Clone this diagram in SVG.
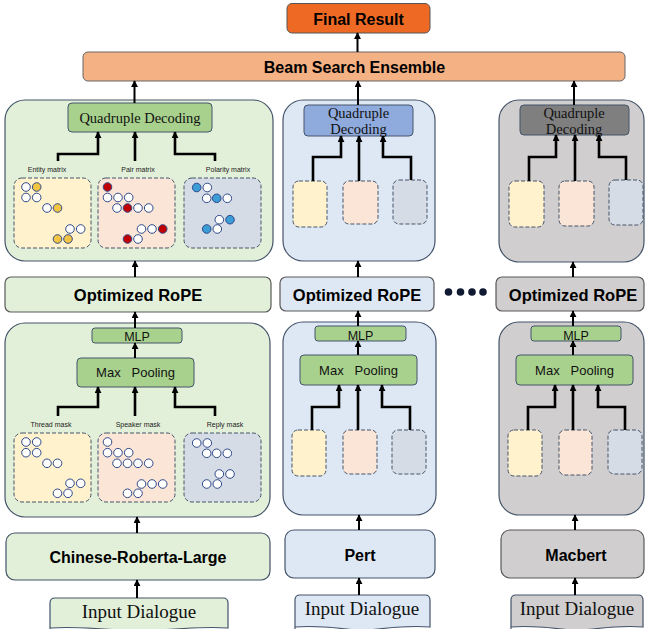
<svg xmlns="http://www.w3.org/2000/svg" width="645" height="629" viewBox="0 0 645 629">
<defs>
<marker id="ah" viewBox="0 0 8 8" refX="7" refY="4" markerWidth="7" markerHeight="7" markerUnits="userSpaceOnUse" orient="auto">
<path d="M0,0 L8,4 L0,8 z" fill="#000"/>
</marker>
<style>
.bold{font-family:"Liberation Sans",Arial,sans-serif;font-weight:bold;fill:#000;text-anchor:middle}
.serif{font-family:"Liberation Serif","Times New Roman",serif;fill:#111;text-anchor:middle}
.sans{font-family:"Liberation Sans",Arial,sans-serif;fill:#111;text-anchor:middle}
.lbl{font-family:"Liberation Sans",Arial,sans-serif;font-size:7px;fill:#222;text-anchor:middle}
.pg{fill:#E2F0D9;stroke:#44546A;stroke-width:1.2}
.pb{fill:#DEE8F4;stroke:#44546A;stroke-width:1.2}
.pgr{fill:#D0CECE;stroke:#44546A;stroke-width:1.2}
.gbox{fill:#A9D18E;stroke:#44546A;stroke-width:1}
.dy{fill:#FFF2CC;stroke:#44546A;stroke-width:1;stroke-dasharray:4 2}
.dp{fill:#FBE5D6;stroke:#44546A;stroke-width:1;stroke-dasharray:4 2}
.dg{fill:#D6DCE5;stroke:#44546A;stroke-width:1;stroke-dasharray:4 2}
.c{fill:#fff;stroke:#2F4A8A;stroke-width:1}
.cy{fill:#F4C542;stroke:#2F4A8A;stroke-width:1}
.cr{fill:#C00000;stroke:#2F4A8A;stroke-width:1}
.cb{fill:#3B9CD6;stroke:#2F4A8A;stroke-width:1}
.a{fill:none;stroke:#000;stroke-width:2;marker-end:url(#ah)}
.t{fill:none;stroke:#000;stroke-width:2.6;marker-end:url(#ah)}
</style>
</defs>

<g id="final-result">
<rect x="287" y="3.5" width="143" height="29.5" rx="5" fill="#EE6A24" stroke="#555" stroke-width="1"/>
<text class="bold" x="358.5" y="24.5" font-size="16">Final Result</text>
</g>

<g id="beam-search-ensemble">
<rect x="83" y="52" width="542" height="29" rx="5" fill="#F4B183" stroke="#666" stroke-width="1"/>
<text class="bold" x="354.5" y="72.5" font-size="16">Beam Search Ensemble</text>
</g>

<!-- LEFT COLUMN -->
<g id="left-decoder-panel">
<rect class="pg" x="5" y="100" width="268" height="161" rx="20"/>
</g>
<g id="left-quadruple-decoding">
<rect class="gbox" x="68" y="103" width="144" height="29" rx="4"/>
<text class="serif" x="140" y="122.5" font-size="14.5">Quadruple Decoding</text>
</g>
<g id="left-entity-matrix">
<text class="lbl" x="47" y="172">Entity matrix</text>
<rect class="dy" x="14" y="178" width="77" height="70" rx="8"/>
<circle class="c" cx="26" cy="187" r="4.3"/><circle class="cy" cx="36.7" cy="187" r="4.3"/>
<circle class="c" cx="26" cy="197.5" r="4.3"/><circle class="c" cx="36.7" cy="197.5" r="4.3"/>
<circle class="c" cx="47" cy="208" r="4.3"/><circle class="cy" cx="57.5" cy="208" r="4.3"/>
<circle class="c" cx="70" cy="229" r="4.3"/><circle class="c" cx="80.7" cy="229" r="4.3"/>
<circle class="cy" cx="57.5" cy="239" r="4.3"/><circle class="cy" cx="68" cy="239" r="4.3"/>
</g>
<g id="left-pair-matrix">
<text class="lbl" x="138" y="172">Pair matrix</text>
<rect class="dp" x="98" y="178" width="77" height="70" rx="8"/>
<circle class="cr" cx="107.5" cy="187" r="4.3"/>
<circle class="c" cx="107.5" cy="197.5" r="4.3"/><circle class="c" cx="118" cy="197.5" r="4.3"/><circle class="c" cx="128.7" cy="197.5" r="4.3"/>
<circle class="c" cx="117" cy="208" r="4.3"/><circle class="cr" cx="127.5" cy="208" r="4.3"/><circle class="c" cx="138" cy="208" r="4.3"/><circle class="c" cx="148.7" cy="208" r="4.3"/>
<circle class="c" cx="141.5" cy="229" r="4.3"/><circle class="c" cx="152" cy="229" r="4.3"/><circle class="cr" cx="162.7" cy="229" r="4.3"/>
<circle class="cr" cx="127.5" cy="239" r="4.3"/><circle class="c" cx="138" cy="239" r="4.3"/>
</g>
<g id="left-polarity-matrix">
<text class="lbl" x="228" y="172">Polarity matrix</text>
<rect class="dg" x="184" y="178" width="77" height="70" rx="8"/>
<circle class="cb" cx="196.7" cy="187.5" r="4.3"/><circle class="c" cx="207.3" cy="187.5" r="4.3"/>
<circle class="c" cx="206.7" cy="198.3" r="4.3"/><circle class="cb" cx="216.7" cy="198.3" r="4.3"/><circle class="c" cx="227.3" cy="198.3" r="4.3"/>
<circle class="c" cx="219.3" cy="219.7" r="4.3"/><circle class="cb" cx="230" cy="219.7" r="4.3"/>
<circle class="cb" cx="206.7" cy="229" r="4.3"/><circle class="c" cx="217.3" cy="229" r="4.3"/>
</g>

<g id="left-optimized-rope">
<rect class="pg" x="5" y="277" width="266" height="35" rx="6" style="stroke:#595959"/>
<text class="bold" x="138" y="300.5" font-size="16.5">Optimized RoPE</text>
</g>

<g id="left-encoder-panel">
<rect class="pg" x="5" y="323" width="265" height="194" rx="20"/>
</g>
<g id="left-mlp">
<rect class="gbox" x="92" y="328" width="90" height="15" rx="3"/>
<text class="sans" x="137" y="341" font-size="12.5">MLP</text>
</g>
<g id="left-max-pooling">
<rect class="gbox" x="77" y="358" width="117" height="29" rx="4"/>
<text class="sans" x="135.5" y="377" font-size="13" style="white-space:pre">Max   Pooling</text>
</g>
<g id="left-thread-mask">
<text class="lbl" x="51" y="427">Thread mask</text>
<rect class="dy" x="14" y="433" width="77" height="69" rx="8"/>
<circle class="c" cx="26" cy="442" r="4.3"/><circle class="c" cx="36.7" cy="442" r="4.3"/>
<circle class="c" cx="26" cy="452.7" r="4.3"/><circle class="c" cx="36.7" cy="452.7" r="4.3"/>
<circle class="c" cx="47" cy="463.3" r="4.3"/><circle class="c" cx="57.5" cy="463.3" r="4.3"/>
<circle class="c" cx="70" cy="483.3" r="4.3"/><circle class="c" cx="80.7" cy="483.3" r="4.3"/>
<circle class="c" cx="57.5" cy="493.3" r="4.3"/><circle class="c" cx="68" cy="493.3" r="4.3"/>
</g>
<g id="left-speaker-mask">
<text class="lbl" x="138" y="427">Speaker mask</text>
<rect class="dp" x="98" y="433" width="77" height="69" rx="8"/>
<circle class="c" cx="107.5" cy="442" r="4.3"/>
<circle class="c" cx="107.5" cy="452.7" r="4.3"/><circle class="c" cx="118" cy="452.7" r="4.3"/><circle class="c" cx="128.7" cy="452.7" r="4.3"/>
<circle class="c" cx="117" cy="463.3" r="4.3"/><circle class="c" cx="127.5" cy="463.3" r="4.3"/><circle class="c" cx="138" cy="463.3" r="4.3"/><circle class="c" cx="148.7" cy="463.3" r="4.3"/>
<circle class="c" cx="141.5" cy="484" r="4.3"/><circle class="c" cx="152" cy="484" r="4.3"/><circle class="c" cx="162.7" cy="484" r="4.3"/>
<circle class="c" cx="127.5" cy="493.3" r="4.3"/><circle class="c" cx="138" cy="493.3" r="4.3"/>
</g>
<g id="left-reply-mask">
<text class="lbl" x="225" y="427">Reply mask</text>
<rect class="dg" x="184" y="433" width="77" height="69" rx="8"/>
<circle class="c" cx="196.7" cy="443" r="4.3"/><circle class="c" cx="207.3" cy="443" r="4.3"/>
<circle class="c" cx="206.7" cy="453.3" r="4.3"/><circle class="c" cx="216.7" cy="453.3" r="4.3"/><circle class="c" cx="227.3" cy="453.3" r="4.3"/>
<circle class="c" cx="219.3" cy="474" r="4.3"/><circle class="c" cx="230" cy="474" r="4.3"/>
<circle class="c" cx="206.7" cy="484" r="4.3"/><circle class="c" cx="217.3" cy="484" r="4.3"/>
</g>

<g id="left-encoder">
<rect class="pg" x="6" y="533" width="264" height="47" rx="9"/>
<text class="bold" x="138" y="563" font-size="16">Chinese-Roberta-Large</text>
</g>
<g id="left-input-dialogue">
<path class="pg" d="M50,632 V603 Q50,598 55,598 H223 Q228,598 228,603 V628 Q200,626 139,632 Q80,626 50,628 Z"/>
<text class="serif" x="139" y="618" font-size="19">Input Dialogue</text>
</g>

<!-- MIDDLE COLUMN -->
<g id="mid-decoder-panel">
<rect class="pb" x="283" y="100" width="152" height="161" rx="20"/>
</g>
<g id="mid-quadruple-decoding">
<rect x="304" y="105" width="109" height="31" rx="4" fill="#8FAADC" stroke="#44546A" stroke-width="1"/>
<text class="serif" x="358.5" y="117.5" font-size="14.5">Quadruple</text>
<text class="serif" x="358.5" y="133.5" font-size="14.5">Decoding</text>
</g>
<g id="mid-entity-matrix"><rect class="dy" x="293" y="181" width="34" height="46" rx="6"/></g>
<g id="mid-pair-matrix"><rect class="dp" x="343" y="181" width="35" height="43" rx="6"/></g>
<g id="mid-polarity-matrix"><rect class="dg" x="393" y="180" width="34" height="44" rx="6"/></g>

<g id="mid-optimized-rope">
<rect class="pb" x="280" y="277" width="154" height="34" rx="6" style="stroke:#595959"/>
<text class="bold" x="357" y="300.5" font-size="16.5">Optimized RoPE</text>
</g>

<g id="ellipsis">
<circle cx="448.5" cy="292" r="3.8" fill="#111a33"/>
<circle cx="460.5" cy="292" r="3.8" fill="#111a33"/>
<circle cx="472" cy="292" r="3.8" fill="#111a33"/>
<circle cx="483" cy="292" r="3.8" fill="#111a33"/>
</g>

<g id="mid-encoder-panel">
<rect class="pb" x="283" y="322" width="153" height="193" rx="20"/>
</g>
<g id="mid-mlp">
<rect class="gbox" x="315" y="326" width="91" height="15" rx="3"/>
<text class="sans" x="360.5" y="339.5" font-size="12.5">MLP</text>
</g>
<g id="mid-max-pooling">
<rect class="gbox" x="300" y="355" width="117" height="30" rx="4"/>
<text class="sans" x="358.5" y="375" font-size="13" style="white-space:pre">Max   Pooling</text>
</g>
<g id="mid-thread-mask"><rect class="dy" x="292" y="430" width="34" height="46" rx="6"/></g>
<g id="mid-speaker-mask"><rect class="dp" x="343" y="430" width="34" height="44" rx="6"/></g>
<g id="mid-reply-mask"><rect class="dg" x="392" y="430" width="34" height="44" rx="6"/></g>

<g id="mid-encoder">
<rect class="pb" x="285" y="530" width="150" height="48" rx="9"/>
<text class="bold" x="360" y="561" font-size="16">Pert</text>
</g>
<g id="mid-input-dialogue">
<path class="pb" d="M295,632 V600 Q295,595 300,595 H425 Q430,595 430,600 V627 Q405,625 362,631 Q320,625 295,627 Z"/>
<text class="serif" x="362" y="615" font-size="19">Input Dialogue</text>
</g>

<!-- RIGHT COLUMN -->
<g id="right-decoder-panel">
<rect class="pgr" x="499" y="100" width="145" height="162" rx="20"/>
</g>
<g id="right-quadruple-decoding">
<rect x="520" y="105" width="109" height="30" rx="4" fill="#7F7F7F" stroke="#44546A" stroke-width="1"/>
<text class="serif" x="574" y="117.5" font-size="14.5">Quadruple</text>
<text class="serif" x="574" y="133.5" font-size="14.5">Decoding</text>
</g>
<g id="right-entity-matrix"><rect class="dy" x="509" y="181" width="35" height="46" rx="6"/></g>
<g id="right-pair-matrix"><rect class="dp" x="559" y="181" width="35" height="45" rx="6"/></g>
<g id="right-polarity-matrix"><rect class="dg" x="609" y="180" width="34" height="45" rx="6"/></g>

<g id="right-optimized-rope">
<rect class="pgr" x="496" y="277" width="148" height="34" rx="6" style="stroke:#595959"/>
<text class="bold" x="573" y="300.5" font-size="16.5">Optimized RoPE</text>
</g>

<g id="right-encoder-panel">
<rect class="pgr" x="499" y="322" width="145" height="193" rx="20"/>
</g>
<g id="right-mlp">
<rect class="gbox" x="531" y="326" width="90" height="15" rx="3"/>
<text class="sans" x="576" y="339.5" font-size="12.5">MLP</text>
</g>
<g id="right-max-pooling">
<rect class="gbox" x="516" y="355" width="117" height="30" rx="4"/>
<text class="sans" x="574.5" y="375" font-size="13" style="white-space:pre">Max   Pooling</text>
</g>
<g id="right-thread-mask"><rect class="dy" x="508" y="430" width="34" height="46" rx="6"/></g>
<g id="right-speaker-mask"><rect class="dp" x="559" y="430" width="33" height="45" rx="6"/></g>
<g id="right-reply-mask"><rect class="dg" x="608" y="430" width="34" height="44" rx="6"/></g>

<g id="right-encoder">
<rect class="pgr" x="501" y="530" width="143" height="48" rx="9" style="stroke:#595959"/>
<text class="bold" x="576" y="561" font-size="16">Macbert</text>
</g>
<g id="right-input-dialogue">
<path class="pgr" d="M511,632 V600 Q511,595 516,595 H638 Q643,595 643,600 V627 Q620,625 577,631 Q535,625 511,627 Z"/>
<text class="serif" x="577" y="615" font-size="19">Input Dialogue</text>
</g>

<!-- CONNECTORS -->
<g id="connectors">
<path class="a" d="M357.5,52 V33"/>
<path class="a" d="M134.5,103 V81"/>
<path class="a" d="M358,105 V81"/>
<path class="a" d="M574,105 V81"/>

<path class="t" d="M58,161 V154 H98 V132"/>
<path class="t" d="M135,161 V132"/>
<path class="t" d="M215,161 V154 H175 V132"/>
<path class="a" d="M135,277 V261"/>
<path class="a" d="M135,328 V312"/>
<path class="a" d="M135,358 V343"/>
<path class="t" d="M58,416 V407 H98 V387"/>
<path class="t" d="M135,416 V387"/>
<path class="t" d="M215,416 V407 H175 V387"/>
<path class="a" d="M137,533 V517"/>
<path class="a" d="M137,598 V580"/>

<path class="t" d="M313,181 V157 H341 V136"/>
<path class="t" d="M359,181 V136"/>
<path class="t" d="M411,180 V157 H383 V136"/>
<path class="a" d="M358,277 V261"/>
<path class="a" d="M358,326 V311"/>
<path class="a" d="M358,355 V341"/>
<path class="t" d="M312,430 V407 H339 V385"/>
<path class="t" d="M358,430 V385"/>
<path class="t" d="M410,430 V407 H382 V385"/>
<path class="a" d="M359,530 V515"/>
<path class="a" d="M359,595 V578"/>

<path class="t" d="M529,181 V157 H556 V135"/>
<path class="t" d="M575,181 V135"/>
<path class="t" d="M626,180 V157 H599 V135"/>
<path class="a" d="M573,277 V262"/>
<path class="a" d="M573,326 V311"/>
<path class="a" d="M573,355 V341"/>
<path class="t" d="M528,430 V407 H555 V385"/>
<path class="t" d="M573,430 V385"/>
<path class="t" d="M625,430 V407 H598 V385"/>
<path class="a" d="M575,530 V515"/>
<path class="a" d="M575,595 V578"/>
</g>
</svg>
